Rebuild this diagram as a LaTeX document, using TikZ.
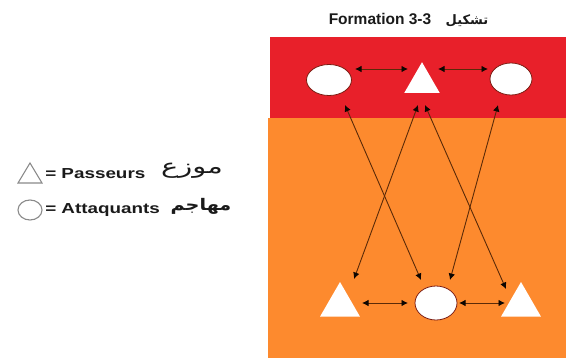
\documentclass[tikz,border=0pt]{standalone}
\usepackage{fontspec}
\setmainfont{Liberation Sans}
\newfontfamily\arfont[Script=Arabic]{DejaVu Sans}
\TeXXeTstate=1
\usetikzlibrary{shapes.geometric,arrows.meta,calc}
\definecolor{topred}{HTML}{E8202A}
\definecolor{orng}{HTML}{FD8A2E}
\definecolor{brn}{HTML}{5A2A08}
\definecolor{ellline}{HTML}{7A1A10}
\definecolor{txt}{HTML}{1A1A1A}
\definecolor{leg}{HTML}{8A8A8A}
\tikzset{
  ell/.style={ellipse, draw=ellline, line width=0.8pt, fill=white, inner sep=0pt},
  tri/.style={regular polygon, regular polygon sides=3, fill=white, inner sep=0pt},
  arr/.style={draw=brn, line width=0.9pt,
    {Latex[length=6.5pt,width=6.5pt,color=black!85!brn]}-{Latex[length=6.5pt,width=6.5pt,color=black!85!brn]}},
  lbl/.style={anchor=west, inner sep=0pt, text=txt, font=\bfseries\fontsize{14.5}{16}\selectfont, xscale=1.3},
}
\begin{document}
\begin{tikzpicture}[x=1pt,y=-1pt]
\useasboundingbox (0,0) rectangle (566,362);
\fill[white] (0,0) rectangle (566,362);
% field
\fill[topred] (270,37) rectangle (566,118);
\fill[orng] (268,118) rectangle (566,358);
% title
\node[inner sep=0pt, text=txt, font=\bfseries\fontsize{15.5}{18}\selectfont] (title) at (380,19) {Formation 3-3};
\node[inner sep=0pt, text=txt, font=\arfont\bfseries\fontsize{13}{16}\selectfont] (titlear) at (467,20.5) {\beginR تشكيل\endR};
% players
\node[ell, minimum width=45pt, minimum height=31pt] (e1) at (329,80) {};
\node[tri, minimum size=41pt] (t1) at (422,82.7) {};
\node[ell, minimum width=42pt, minimum height=32pt] (e3) at (511,79) {};
\node[tri, minimum size=46pt] (t2) at (340,305) {};
\node[ell, minimum width=42pt, minimum height=34pt] (e2) at (436,303) {};
\node[tri, minimum size=46pt] (t3) at (521,305) {};
% connectors
\draw[arr] ($(e1.center)+(26,-11)$) -- ($(t1.center)+(-14,-13.7)$);
\draw[arr] ($(t1.center)+(16,-13.7)$) -- ($(e3.center)+(-23,-10)$);
\draw[arr] ($(t2.center)+(22,-2)$) -- ($(e2.center)+(-28,0)$);
\draw[arr] ($(e2.center)+(23,0)$) -- ($(t3.center)+(-16,-2)$);
\draw[arr] ($(e1.center)+(16,25)$) -- ($(e2.center)+(-15,-23)$);
\draw[arr] ($(t1.center)+(-4,22.3)$) -- ($(t2.center)+(14,-26)$);
\draw[arr] ($(t1.center)+(3,22.3)$) -- ($(t3.center)+(-15,-16)$);
\draw[arr] ($(e3.center)+(-13,26)$) -- ($(e2.center)+(14,-23)$);
% legend
\draw[leg, line width=1.1pt, line join=miter] (18,183) -- (42,183) -- (30,163) -- cycle;
\node[ellipse, draw=leg, line width=1.1pt, minimum width=24pt, minimum height=20pt, inner sep=0pt] (legc) at (30,210) {};
\node[lbl] (pass) at (45,173.5) {= Passeurs};
\node[lbl] (att) at (45,210.5) {= Attaquants};
\node[inner sep=0pt, text=txt, xscale=1.45, font=\arfont\fontsize{20}{22}\selectfont] (passar) at (192,171) {\beginR موزع\endR};
\node[inner sep=0pt, text=txt, xscale=1.2, font=\arfont\bfseries\fontsize{16}{18}\selectfont] (attar) at (201,206) {\beginR مهاجم\endR};
\end{tikzpicture}
\end{document}
